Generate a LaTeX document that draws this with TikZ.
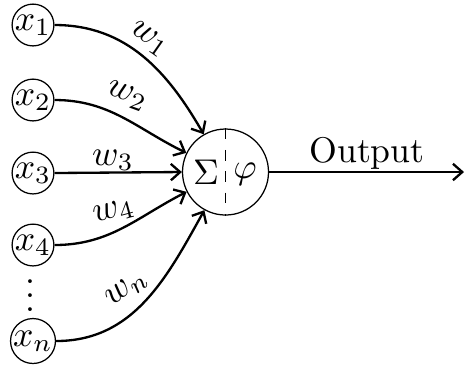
\documentclass[tikz,border=0pt]{standalone}
\usetikzlibrary{arrows.meta}
\begin{document}
\begin{tikzpicture}[x=0.28pt,y=0.28pt,
  inp/.style={draw,circle,line width=0.35pt,minimum size=38*0.28pt,inner sep=0pt},
  conn/.style={-{Straight Barb[length=2.6pt,width=4.6pt]},line width=0.65pt},
  wlab/.style={inner sep=0pt}]
\useasboundingbox (0,0) rectangle (465,367);
\node[inp] (x1) at (33,342) {$x_1$};
\node[inp] (x2) at (33,267) {$x_2$};
\node[inp] (x3) at (33,194) {$x_3$};
\node[inp] (x4) at (33,122) {$x_4$};
\node[inp] (xn) at (33,26) {$x_n$};
\node[inner sep=0pt] (dots) at (30,82) {$\vdots$};
\node[draw,circle,line width=0.35pt,minimum size=86*0.28pt,inner sep=0pt] (s) at (225.5,195) {};
\draw[dashed,line width=0.35pt] (s.north) -- (s.south);
\node (sig) at (206,195) {$\Sigma$};
\node (phi) at (245,193) {$\varphi$};
\coordinate (out) at (464,195);
\draw[conn] (x1.east) to[out=0,in=120] (s.120);
\draw[conn] (x2.east) to[out=0,in=154] (s.154);
\draw[conn] (x3.east) -- (s.west);
\draw[conn] (x4.east) to[out=0,in=207] (s.207);
\draw[conn] (xn.east) to[out=0,in=241] (s.241);
\draw[conn] (s.east) -- (out);
\node[wlab,rotate=-35] (w1) at (149,328) {$w_1$};
\node[wlab,rotate=-20] (w2) at (127,271) {$w_2$};
\node[wlab] (w3) at (113,207) {$w_3$};
\node[wlab,rotate=15] (w4) at (114,155) {$w_4$};
\node[wlab,rotate=38] (wn) at (127,78) {$w_n$};
\node (outl) at (367,214) {Output};
\end{tikzpicture}
\end{document}
